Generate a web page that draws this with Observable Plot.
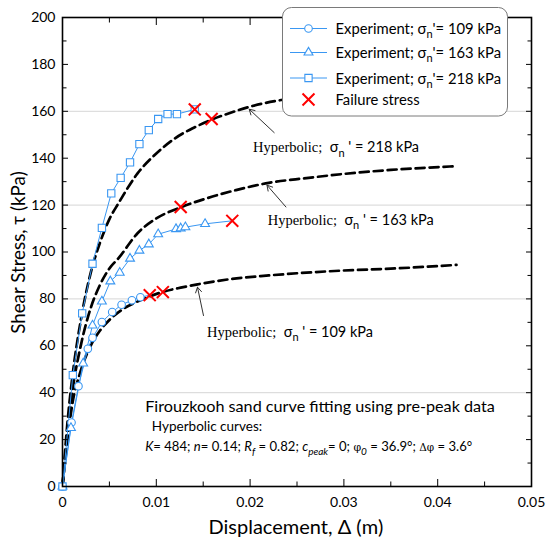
<!DOCTYPE html>
<html><head><meta charset="utf-8">
<script src="https://cdn.jsdelivr.net/npm/d3@7"></script>
<script src="https://cdn.jsdelivr.net/npm/@observablehq/plot@0.6"></script>
<style>body{margin:0;background:#fff} text{white-space:pre}</style>
</head><body><div id="chart"></div>
<script>
// ---------- data ----------
const exp109Disp = [0, 0.00096, 0.0017, 0.0027, 0.0032, 0.0042, 0.0053, 0.0063, 0.0074, 0.0083, 0.0093];
const exp109Tau  = [0, 27.3, 42.8, 58.7, 63.4, 70.1, 74.4, 77.5, 79.4, 80.7, 81.6];
const exp163Disp = [0, 0.0009, 0.0022, 0.0032, 0.0042, 0.0051, 0.0061, 0.0072, 0.0082, 0.0092, 0.0102, 0.0121, 0.0126, 0.0131, 0.0152, 0.0181];
const exp163Tau  = [0, 25, 52.5, 68.7, 78.9, 87.5, 91.2, 97.2, 100.6, 103.3, 107.6, 109.8, 110.1, 110.6, 112, 113.3];
const exp218Disp = [0, 0.0011, 0.0021, 0.0032, 0.0042, 0.0052, 0.0062, 0.0072, 0.0082, 0.0092, 0.0102, 0.0112, 0.0122, 0.0141];
const exp218Tau  = [0, 47.5, 73.8, 95, 110.3, 125, 131.6, 138.2, 146, 152, 156.7, 158.8, 158.8, 160.8];
const failDisp = [0.0093, 0.0107, 0.0126, 0.0181, 0.0141, 0.0159];
const failTau  = [81.6, 82.9, 119.2, 113.3, 160.8, 156.7];
const hyp109Disp = [0, 0.0005, 0.001, 0.002, 0.003, 0.004, 0.005, 0.0065, 0.0083, 0.0107, 0.0126, 0.0144, 0.018, 0.022, 0.026, 0.03, 0.035, 0.042];
const hyp109Tau  = [0, 19, 34, 50, 60, 66.5, 71, 75.8, 79.4, 83, 84.8, 86.2, 88.5, 90, 91.2, 92.1, 92.9, 94.5];
const hyp163Disp = [0, 0.0005, 0.001, 0.002, 0.003, 0.004, 0.005, 0.006, 0.008, 0.01, 0.0127, 0.0153, 0.0185, 0.022, 0.026, 0.03, 0.035, 0.042];
const hyp163Tau  = [0, 22, 39, 61, 76, 86, 93, 97.5, 108, 114.3, 119.2, 122.8, 126.4, 129.5, 131.5, 133.3, 135, 136.6];
const hyp218Disp = [0, 0.0005, 0.001, 0.002, 0.003, 0.004, 0.005, 0.006, 0.008, 0.01, 0.012, 0.014, 0.016, 0.018, 0.02, 0.025, 0.03, 0.035, 0.042];
const hyp218Tau  = [0, 26, 45, 72, 91, 104, 114, 121, 133.5, 142, 148.5, 153, 156.6, 159.5, 162, 166, 169.5, 172, 174.3];

const xTicks = [0, 0.01, 0.02, 0.03, 0.04, 0.05];
const xTickLabels = ["0", "0.01", "0.02", "0.03", "0.04", "0.05"];
const xMinorTicks = [0.005, 0.015, 0.025, 0.035, 0.045];
const yTicks = [0, 20, 40, 60, 80, 100, 120, 140, 160, 180, 200];
const yTickLabels = ["0", "20", "40", "60", "80", "100", "120", "140", "160", "180", "200"];
const yMinorTicks = [10, 30, 50, 70, 90, 110, 130, 150, 170, 190];
const gridTau = [40, 80, 120, 160];

const legendLabels = ["109", "163", "218"];
const hypLabels = ["218", "163", "109"];
const hypLabelDisp = [0.02037, 0.02193, 0.01546];
const hypLabelTau = [142.3, 111.4, 63.7];
const arrowTailDisp = [0.02257, 0.02382, 0.01503];
const arrowTailTau = [150.9, 119.2, 72.9];
const arrowHeadDisp = [0.0199, 0.0218, 0.01439];
const arrowHeadTau = [160.9, 128.5, 85.0];
const noteDisp = [0.00887, 0.00958, 0.00887];
const noteTau = [31.6, 23.5, 15.0];

// ---------- build tables ----------
const zip = (xs, ys) => xs.map((d, i) => ({d, t: ys[i]}));
const e109 = zip(exp109Disp, exp109Tau), e163 = zip(exp163Disp, exp163Tau), e218 = zip(exp218Disp, exp218Tau);
const h109 = zip(hyp109Disp, hyp109Tau), h163 = zip(hyp163Disp, hyp163Tau), h218 = zip(hyp218Disp, hyp218Tau);
const fail = zip(failDisp, failTau);
const arrows = arrowTailDisp.map((d, i) => ({x1: d, y1: arrowTailTau[i], x2: arrowHeadDisp[i], y2: arrowHeadTau[i]}));

const BLUE = "#3a97f2";
const SANS = "Lato";
const dash = {x: "d", y: "t", stroke: "black", strokeWidth: 2.7, strokeDasharray: "9,5", curve: "monotone-x"};
const expLine = {x: "d", y: "t", stroke: BLUE, strokeWidth: 1};
const dotOpt = (sym, r) => ({x: "d", y: "t", symbol: sym, r, stroke: BLUE, fill: "white", strokeWidth: 1.1});

const plot = Plot.plot({
  width: 550, height: 545,
  marginLeft: 62, marginRight: 19, marginTop: 17, marginBottom: 59,
  x: {domain: [0, 0.05]},
  y: {domain: [0, 200]},
  style: {fontFamily: SANS, fontSize: "14px", color: "black", background: "white"},
  marks: [
    Plot.ruleY(gridTau, {stroke: "#d6d6d6", strokeWidth: 1}),
    Plot.line(h109, dash), Plot.line(h163, dash), Plot.line(h218, dash),
    Plot.line(e109, expLine), Plot.line(e163, expLine), Plot.line(e218, expLine),
    Plot.dot(e109.slice(0, -1), dotOpt("circle", 3.8)),
    Plot.dot(e163.slice(0, -1), dotOpt("triangle", 3.3)),
    Plot.dot(e218, dotOpt("square", 4.1)),
    Plot.dot(fail, {x: "d", y: "t", symbol: "times", r: 5.5, stroke: "#ff0000", strokeWidth: 2}),
    Plot.arrow(arrows, {x1: "x1", y1: "y1", x2: "x2", y2: "y2", stroke: "#333", strokeWidth: 1, headLength: 9, bend: 0}),
    Plot.frame({stroke: "black", strokeWidth: 1.6}),
    Plot.axisX(xTicks, {anchor: "bottom", tickSize: -7, text: null}),
    Plot.axisX(xMinorTicks, {anchor: "bottom", tickSize: -4.5, text: null}),
    Plot.axisX(xTicks, {anchor: "top", tickSize: -7, text: null}),
    Plot.axisX(xMinorTicks, {anchor: "top", tickSize: -4.5, text: null}),
    Plot.axisY(yTicks, {anchor: "left", tickSize: -6, text: null}),
    Plot.axisY(yMinorTicks, {anchor: "left", tickSize: -4.5, text: null}),
    Plot.axisY(yTicks, {anchor: "right", tickSize: -6, text: null}),
    Plot.axisY(yMinorTicks, {anchor: "right", tickSize: -4.5, text: null}),
    Plot.axisX(xTicks, {anchor: "bottom", tickSize: 0, tickPadding: 11, tickFormat: (d, i) => xTickLabels[i], label: null, fontSize: 14}),
    Plot.axisY(yTicks, {anchor: "left", tickSize: 0, tickPadding: 7, tickFormat: (d, i) => yTickLabels[i], label: null, fontSize: 14})
  ]
});
document.getElementById("chart").appendChild(plot);

// ---------- annotations ----------
const svg = d3.select(plot);
const sx = v => plot.scale("x").apply(v);
const sy = v => plot.scale("y").apply(v);

function rich(parent, x, y, parts, font, size, extra = {}) {
  const t = parent.append("text").attr("x", x).attr("y", y)
    .attr("font-family", font).attr("font-size", size).attr("fill", "black")
    .attr("text-anchor", "start");
  for (const k in extra) t.attr(k, extra[k]);
  let shift = 0;
  for (const p of parts) {
    const target = p.sub ? size * 0.3 : 0;
    const ts = t.append("tspan").text(p.t);
    if (target !== shift) { ts.attr("dy", target - shift); shift = target; }
    if (p.font) ts.attr("font-family", p.font);
    if (p.italic) ts.attr("font-style", "italic");
    if (p.size) ts.attr("font-size", p.size);
  }
  return t;
}

const ann = svg.append("g");
hypLabels.forEach((lab, i) => {
  rich(ann, sx(hypLabelDisp[i]), sy(hypLabelTau[i]), [
    {t: "Hyperbolic;", font: "Liberation Serif"},
    {t: "  σ"}, {t: "n", sub: true, size: 11}, {t: " ' = " + lab + " kPa"}
  ], SANS, 14.5);
});

rich(ann, sx(noteDisp[0]), sy(noteTau[0]), [{t: "Firouzkooh sand curve fitting using pre-peak data"}], SANS, 16.2);
rich(ann, sx(noteDisp[1]), sy(noteTau[1]), [{t: "Hyperbolic curves:"}], SANS, 13.5);
rich(ann, sx(noteDisp[2]), sy(noteTau[2]), [
  {t: "K", italic: true}, {t: "= 484; "}, {t: "n", italic: true}, {t: "= 0.14; "},
  {t: "R", italic: true}, {t: "f", italic: true, sub: true, size: 10}, {t: " = 0.82; "},
  {t: "c", italic: true}, {t: "peak", italic: true, sub: true, size: 10}, {t: "= 0; "},
  {t: "φ", font: "DejaVu Serif", size: 11}, {t: "0", italic: true, sub: true, size: 10}, {t: " = 36.9°; "},
  {t: "Δφ", font: "DejaVu Serif", size: 10.5}, {t: " = 3.6°"}
], SANS, 13.1);

// axis titles
rich(svg, 296, 534, [{t: "Displacement, Δ (m)"}], SANS, 20, {"text-anchor": "middle"});
rich(svg, 0, 0, [{t: "Shear Stress, τ (kPa)"}], SANS, 18.8, {"text-anchor": "middle", transform: "translate(25,252.5) rotate(-90)"});

// ---------- legend ----------
const lg = svg.append("g");
lg.append("rect").attr("x", 282.5).attr("y", 7.5).attr("width", 225).attr("height", 108.5)
  .attr("rx", 9).attr("fill", "white").attr("stroke", "#7a7a7a").attr("stroke-width", 1);
const rowsY = [28.5, 52.5, 78, 99.5];
const syms = [d3.symbolCircle, d3.symbolTriangle, d3.symbolSquare];
const rs = [3.8, 3.3, 4.1];
legendLabels.forEach((lab, i) => {
  const yy = rowsY[i];
  lg.append("line").attr("x1", 290).attr("x2", 327).attr("y1", yy).attr("y2", yy).attr("stroke", BLUE).attr("stroke-width", 1);
  lg.append("path").attr("transform", `translate(308.5,${yy})`)
    .attr("d", d3.symbol(syms[i], Math.PI * rs[i] * rs[i])())
    .attr("fill", "white").attr("stroke", BLUE).attr("stroke-width", 1.1);
  rich(lg, 335.5, yy + 5.5, [{t: "Experiment; σ"}, {t: "n", sub: true, size: 11}, {t: "'= " + lab + " kPa"}], SANS, 14.8);
});
lg.append("path").attr("transform", `translate(308.5,${rowsY[3]})`)
  .attr("d", d3.symbol(d3.symbolTimes, Math.PI * 5.5 * 5.5)())
  .attr("fill", "none").attr("stroke", "#ff0000").attr("stroke-width", 2);
rich(lg, 335.5, rowsY[3] + 5.5, [{t: "Failure stress"}], SANS, 14.8);
</script>
</body></html>
